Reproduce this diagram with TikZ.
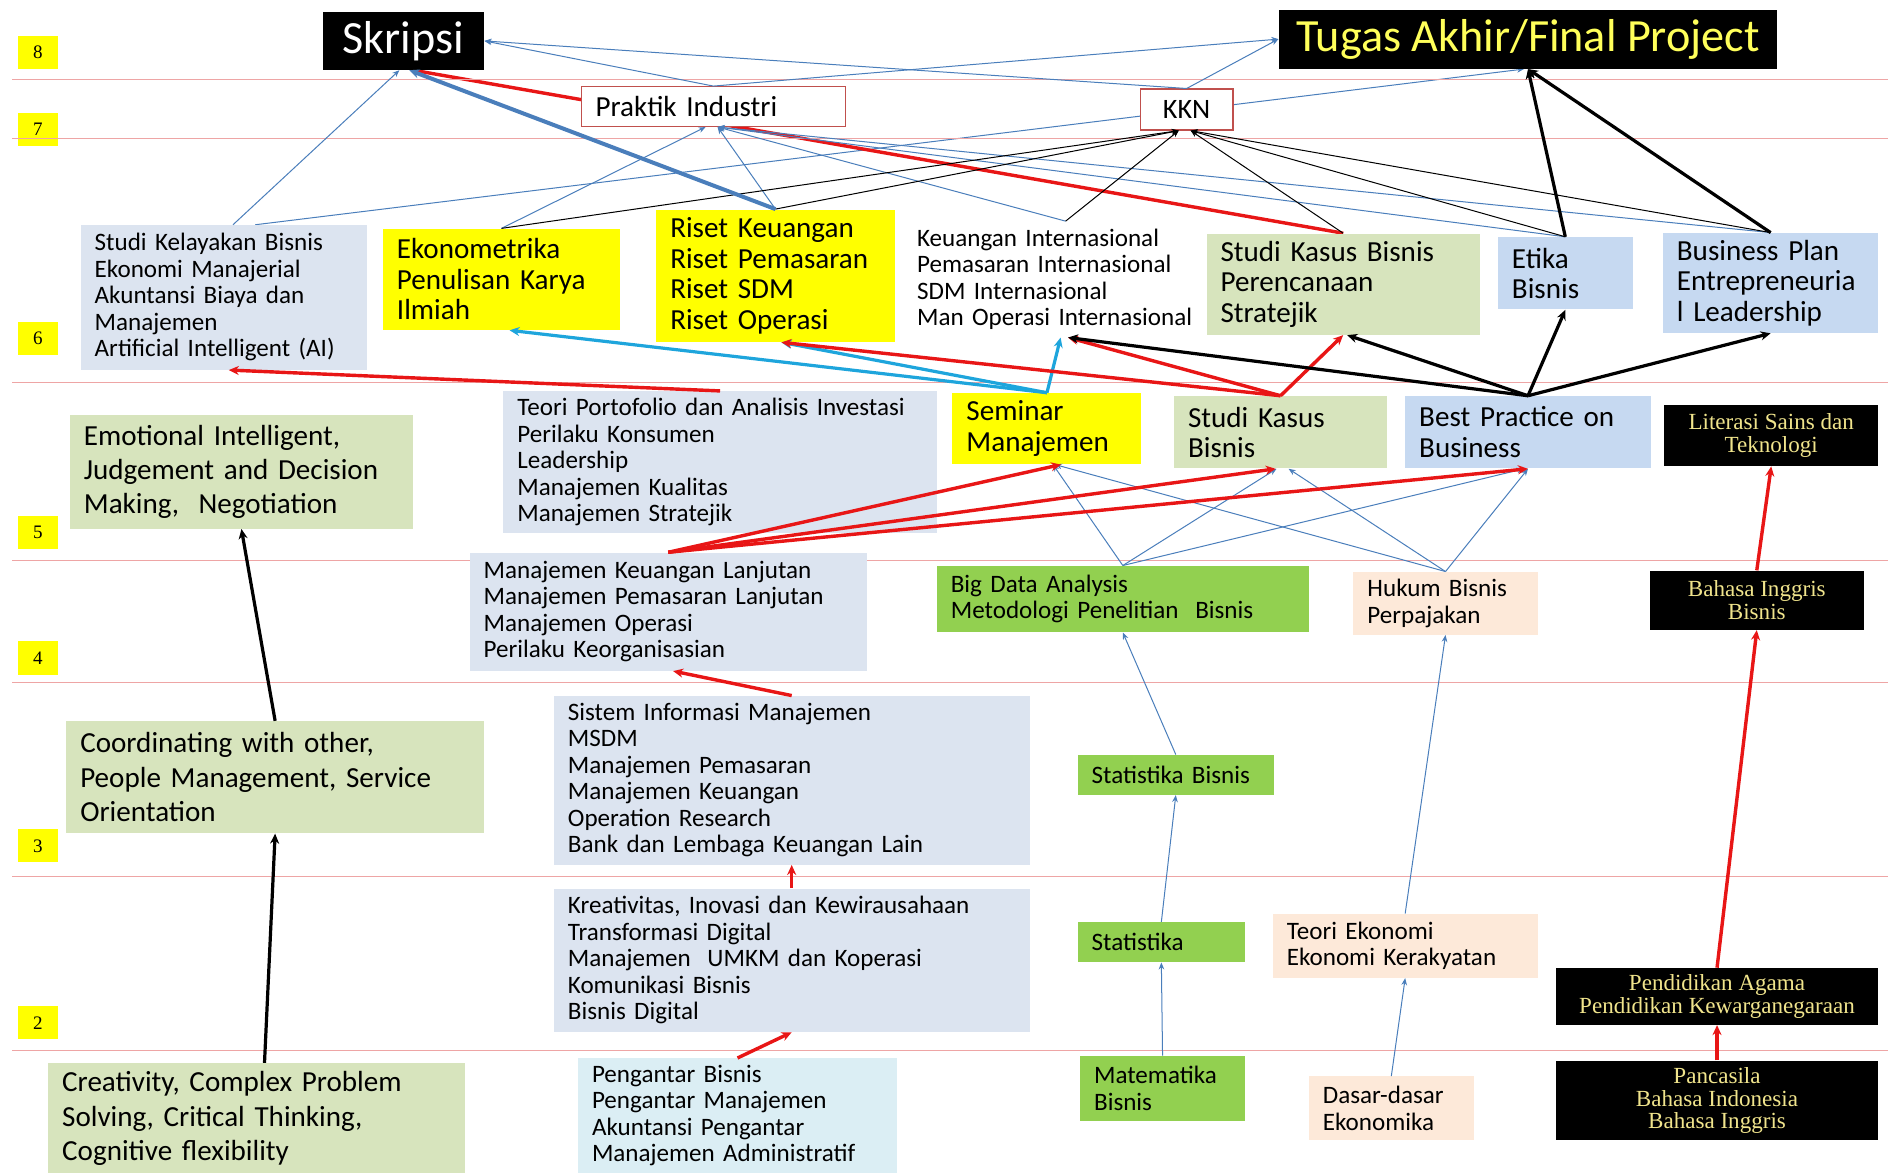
\documentclass[tikz,border=0pt]{standalone}
\usepackage{fontspec}
\setmainfont{Carlito}
\newfontfamily\serifk{Liberation Serif}
\usetikzlibrary{arrows.meta, backgrounds}
\definecolor{abu}{RGB}{220,228,240}
\definecolor{biru}{RGB}{198,217,241}
\definecolor{sage}{RGB}{215,228,189}
\definecolor{hijau}{RGB}{146,208,80}
\definecolor{peach}{RGB}{253,233,217}
\definecolor{aqua}{RGB}{219,238,244}
\definecolor{kuning}{RGB}{255,255,0}
\definecolor{kuningtua}{RGB}{255,255,90}
\definecolor{kuningpucat}{RGB}{240,228,140}
\definecolor{garisbiru}{RGB}{74,126,187}
\definecolor{merah}{RGB}{232,22,22}
\definecolor{sian}{RGB}{30,165,220}
\definecolor{batas}{RGB}{192,80,77}
\definecolor{garism}{RGB}{238,165,165}
\tikzset{%
    kot/.style={rectangle, inner xsep=7pt, inner ysep=0pt, align=left},
    kec/.style={kot, font=\fontsize{12.5}{13.2}\selectfont},
    sed/.style={kot, font=\fontsize{14.5}{15.2}\selectfont},
    bes/.style={kot, font=\fontsize{14.5}{17.1}\selectfont},
    hit/.style={rectangle, fill=black, text=kuningpucat, align=center, inner sep=0pt, font=\serifk\fontsize{11.5}{11.4}\selectfont},
    lvl/.style={rectangle, fill=kuning, minimum width=19.8pt, minimum height=16.5pt, inner sep=0pt, font=\serifk\fontsize{9.5}{9.5}\selectfont},
    garisl/.style={line width=0.4pt, garism},
    tbiru/.style={line width=0.5pt, garisbiru, -{Stealth[length=3.5pt, width=2.8pt]}},
    thitam/.style={line width=0.5pt, black, -{Stealth[length=3.5pt, width=2.8pt]}},
    bbiru/.style={line width=2pt, garisbiru, -{Stealth[length=5pt, width=4.5pt]}},
    bmerah/.style={line width=1.7pt, merah, -{Stealth[length=5pt, width=4.5pt]}},
    bhitam/.style={line width=1.6pt, black, -{Stealth[length=5pt, width=4.5pt]}},
    bsian/.style={line width=1.6pt, sian, -{Stealth[length=5pt, width=4.5pt]}},
}

\begin{document}
\begin{tikzpicture}[x=0.6pt, y=-0.6pt]
    \useasboundingbox (0,0) rectangle (1568,974);
    % semester labels
    \foreach \n/\y in {8/43.5, 7/107.5, 6/281, 5/442, 4/546.5, 3/702.5, 2/849.5}
        \node[lvl] (lv\n) at (31.5,\y) {\n};
    \foreach \y in {66,115,318,465,567,728,872}
        \draw[garisl] (10,\y) -- (1568,\y);
    % level 8 and 7
    \node[fill=black, text=white, minimum width=80.4pt, minimum height=28.8pt, inner sep=0pt, font=\fontsize{23}{23}\selectfont] (skripsi) at (335,34) {Skripsi};
    \node[fill=black, text=kuningtua, minimum width=248.4pt, minimum height=29.4pt, inner sep=0pt, font=\fontsize{23}{23}\selectfont] (tugas) at (1269,32.5) {Tugas Akhir/Final Project};
    \node[sed, draw=batas, fill=white, line width=0.6pt, text width=117.4pt, minimum height=19.8pt] (praktik) at (592.5,88.5) {Praktik Industri};
    \node[draw=batas, fill=white, line width=0.6pt, minimum width=46.2pt, minimum height=20.4pt, inner sep=0pt, font=\fontsize{14}{15}\selectfont] (kkn) at (985.5,91) {KKN};
    % level 6
    \node[kec, fill=abu, text width=128.8pt, minimum height=72pt] (sk) at (186,247) {Studi Kelayakan Bisnis\\Ekonomi Manajerial\\Akuntansi Biaya dan\\Manajemen\\Artificial Intelligent (AI)};
    \node[sed, fill=kuning, text width=104.2pt, minimum height=50.4pt] (eko) at (416.5,232) {Ekonometrika\\Penulisan Karya\\Ilmiah};
    \node[sed, fill=kuning, text width=104.8pt, minimum height=66pt] (riset) at (644,229) {Riset Keuangan\\Riset Pemasaran\\Riset SDM\\Riset Operasi};
    \node[kec, text width=145pt, minimum height=57.6pt] (keuint) at (882.5,232) {Keuangan Internasional\\Pemasaran Internasional\\SDM Internasional\\Man Operasi Internasional};
    \node[sed, fill=sage, text width=122.2pt, minimum height=50.4pt] (skb) at (1115.5,236) {Studi Kasus Bisnis\\Perencanaan\\Stratejik};
    \node[sed, fill=biru, text width=53.2pt, minimum height=36pt] (etika) at (1300,227) {Etika\\Bisnis};
    \node[sed, fill=biru, text width=93.4pt, minimum height=49.8pt] (bplan) at (1470.5,235) {Business Plan\\Entrepreneuria\\l Leadership};
    % level 5
    \node[bes, fill=sage, text width=157pt, minimum height=56.4pt] (emo) at (200.5,392) {Emotional Intelligent,\\Judgement and Decision\\Making,~ Negotiation};
    \node[kec, fill=abu, text width=202pt, minimum height=70.8pt] (teori) at (598,384) {Teori Portofolio dan Analisis Investasi\\Perilaku Konsumen\\Leadership\\Manajemen Kualitas\\Manajemen Stratejik};
    \node[sed, fill=kuning, text width=80.2pt, minimum height=35.4pt] (seminar) at (869.5,356) {Seminar\\Manajemen};
    \node[sed, fill=sage, text width=92.2pt, minimum height=36pt] (skasus) at (1063.5,359) {Studi Kasus\\Bisnis};
    \node[sed, fill=biru, text width=108.4pt, minimum height=36pt] (bestp) at (1269,359) {Best Practice on\\Business};
    \node[hit, minimum width=106.8pt, minimum height=30.6pt] (literasi) at (1471,361.5) {Literasi Sains dan\\Teknologi};
    % level 4
    \node[kec, fill=abu, text width=184pt, minimum height=58.8pt] (mkl) at (555,508) {Manajemen Keuangan Lanjutan\\Manajemen Pemasaran Lanjutan\\Manajemen Operasi\\Perilaku Keorganisasian};
    \node[kec, fill=hijau, text width=171.4pt, minimum height=33pt] (bigdata) at (932.5,497.5) {Big Data Analysis\\Metodologi Penelitian~ Bisnis};
    \node[kec, fill=peach, text width=77.8pt, minimum height=31.2pt] (hukum) at (1200.5,501) {Hukum Bisnis\\Perpajakan};
    \node[hit, minimum width=106.8pt, minimum height=29.4pt] (bing) at (1459,498.5) {Bahasa Inggris\\Bisnis};
    % level 3
    \node[bes, fill=sage, text width=194.2pt, minimum height=55.8pt] (coord) at (228.5,645.5) {Coordinating with other,\\People Management, Service\\Orientation};
    \node[kec, fill=abu, text width=223pt, minimum height=84pt] (sim) at (657.5,648) {Sistem Informasi Manajemen\\MSDM\\Manajemen Pemasaran\\Manajemen Keuangan\\Operation Research\\Bank dan Lembaga Keuangan Lain};
    \node[kec, fill=hijau, text width=83.8pt, minimum height=19.8pt] (statbis) at (976.5,643.5) {Statistika Bisnis};
    % level 2
    \node[kec, fill=abu, text width=223pt, minimum height=71.4pt] (kreatif) at (657.5,797.5) {Kreativitas, Inovasi dan Kewirausahaan\\Transformasi Digital\\Manajemen~ UMKM dan Koperasi\\Komunikasi Bisnis\\Bisnis Digital};
    \node[kec, fill=hijau, text width=69.4pt, minimum height=19.8pt] (stat) at (964.5,782.5) {Statistika};
    \node[kec, fill=peach, text width=118pt, minimum height=31.8pt] (teoeko) at (1167,785.5) {Teori Ekonomi\\Ekonomi Kerakyatan};
    \node[hit, minimum width=160.8pt, minimum height=28.2pt] (agama) at (1426,827.5) {Pendidikan Agama\\Pendidikan Kewarganegaraan};
    % level 1
    \node[bes, fill=sage, text width=193.6pt, minimum height=55.2pt] (creat) at (213,929) {Creativity, Complex Problem\\Solving, Critical Thinking,\\Cognitive flexibility};
    \node[kec, fill=aqua, text width=145pt, minimum height=57pt] (pengantar) at (612.5,926.5) {Pengantar Bisnis\\Pengantar Manajemen\\Akuntansi Pengantar\\Manajemen Administratif};
    \node[kec, fill=hijau, text width=68.2pt, minimum height=32.4pt] (mat) at (965.5,904) {Matematika\\Bisnis};
    \node[kec, fill=peach, text width=68.2pt, minimum height=31.8pt] (dasar) at (1155.5,920.5) {Dasar-dasar\\Ekonomika};
    \node[hit, minimum width=160.8pt, minimum height=39.6pt] (pancasila) at (1426,914) {Pancasila\\Bahasa Indonesia\\Bahasa Inggris};

    % these two run behind KKN and Praktik Industri
    \begin{pgfonlayer}{background}
    \draw[tbiru] ([xshift=15.6pt]sk.north) -- ([xshift=-2pt]tugas.south);
    \draw[bmerah] (skb.north) -- ([xshift=5pt]skripsi.south);
    \end{pgfonlayer}
    % thin connectors
    \draw[tbiru] ([xshift=4.5pt]sk.north) -- ([xshift=-2pt]skripsi.south);
    \draw[tbiru] (praktik.north) -- (skripsi.east);
    \draw[tbiru] (kkn.north) -- (skripsi.east);
    \draw[tbiru] (praktik.north) -- (tugas.west);
    \draw[tbiru] (kkn.north) -- (tugas.west);
    \draw[tbiru] (eko.north) -- ([xshift=-3.9pt]praktik.south);
    \draw[tbiru] (riset.north) -- ([xshift=2.1pt]praktik.south);
    \draw[tbiru] ([xshift=1.5pt]keuint.north) -- ([xshift=2.1pt]praktik.south);
    \draw[tbiru] (etika.north) -- ([xshift=2.1pt]praktik.south);
    \draw[tbiru] (bplan.north) -- ([xshift=2.1pt]praktik.south);
    \draw[thitam] (eko.north) -- ([xshift=-3.9pt]kkn.south);
    \draw[thitam] (riset.north) -- ([xshift=-3.9pt]kkn.south);
    \draw[thitam] ([xshift=1.5pt]keuint.north) -- ([xshift=-3.9pt]kkn.south);
    \draw[thitam] (skb.north) -- ([xshift=2pt]kkn.south);
    \draw[thitam] (etika.north) -- ([xshift=2pt]kkn.south);
    \draw[thitam] (bplan.north) -- ([xshift=2pt]kkn.south);
    \draw[tbiru] (bigdata.north) -- ([xshift=3pt]seminar.south);
    \draw[tbiru] (bigdata.north) -- ([xshift=-2pt]skasus.south);
    \draw[tbiru] (bigdata.north) -- ([xshift=-2pt]bestp.south);
    \draw[tbiru] (hukum.north) -- ([xshift=4pt]seminar.south);
    \draw[tbiru] (hukum.north) -- ([xshift=4pt]skasus.south);
    \draw[tbiru] (hukum.north) -- (bestp.south);
    \draw[tbiru] (statbis.north) -- (bigdata.south);
    \draw[tbiru] (stat.north) -- (statbis.south);
    \draw[tbiru] (mat.north) -- (stat.south);
    \draw[tbiru] (teoeko.north) -- (hukum.south);
    \draw[tbiru] (dasar.north) -- (teoeko.south);
    % thick connectors
    \draw[bbiru] (riset.north) -- ([xshift=3pt]skripsi.south);
    \draw[bhitam] (etika.north) -- (tugas.south);
    \draw[bhitam] (bplan.north) -- (tugas.south);
    \draw[bmerah] (teori.north) -- ([xshift=2.4pt]sk.south);
    \draw[bsian] (seminar.north) -- ([xshift=4pt]eko.south);
    \draw[bsian] (seminar.north) -- ([xshift=3pt]riset.south);
    \draw[bsian] (seminar.north) -- ([xshift=-1pt]keuint.south);
    \draw[bmerah] (skasus.north) -- ([xshift=3pt]riset.south);
    \draw[bmerah] (skasus.north) -- ([xshift=2.7pt]keuint.south);
    \draw[bmerah] (skasus.north) -- (skb.south);
    \draw[bhitam] (bestp.north) -- ([xshift=2.7pt]keuint.south);
    \draw[bhitam] (bestp.north) -- ([xshift=2pt]skb.south);
    \draw[bhitam] (bestp.north) -- (etika.south);
    \draw[bhitam] (bestp.north) -- (bplan.south);
    \draw[bmerah] (mkl.north) -- ([xshift=7pt]seminar.south);
    \draw[bmerah] (mkl.north) -- ([xshift=-2.4pt]skasus.south);
    \draw[bmerah] (mkl.north) -- (bestp.south);
    \draw[bmerah] (sim.north) -- ([xshift=2.4pt]mkl.south);
    \draw[bmerah] (kreatif.north) -- (sim.south);
    \draw[bmerah] (pengantar.north) -- (kreatif.south);
    \draw[bmerah] (pancasila.north) -- (agama.south);
    \draw[bmerah] (agama.north) -- (bing.south);
    \draw[bmerah] (bing.north) -- (literasi.south);
    \draw[bhitam] ([xshift=4pt]creat.north) -- (coord.south);
    \draw[bhitam] (coord.north) -- (emo.south);
\end{tikzpicture}
\end{document}
